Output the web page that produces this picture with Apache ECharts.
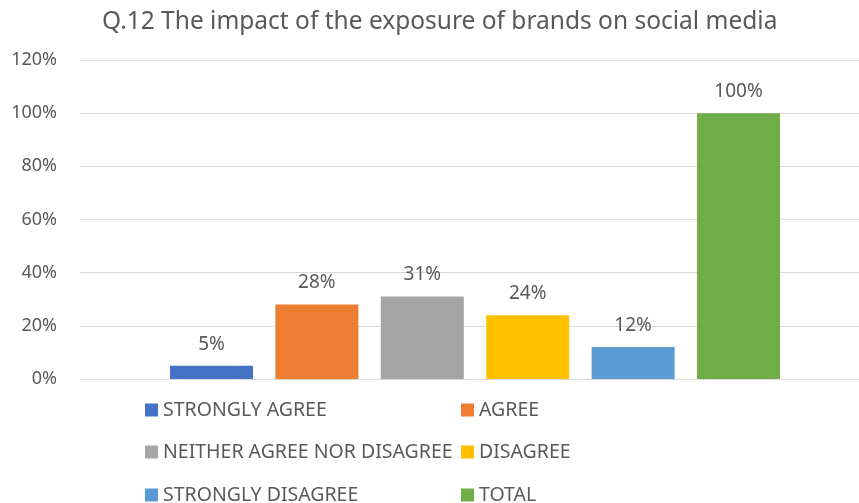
<!DOCTYPE html>
<html>
<head>
<meta charset="utf-8">
<script src="https://cdn.jsdelivr.net/npm/echarts@6/dist/echarts.min.js"></script>
<style>
  html, body { margin: 0; padding: 0; background: #fff; }
  #chart { width: 859px; height: 503px; }
</style>
</head>
<body>
<div id="chart"></div>
<script>
// Survey answers, in percent of respondents
const seriesNames = ['STRONGLY AGREE', 'AGREE', 'NEITHER AGREE NOR DISAGREE', 'DISAGREE', 'STRONGLY DISAGREE', 'TOTAL'];
const seriesValues = [5, 28, 31, 24, 12, 100];
const seriesColors = ['#4472C4', '#ED7D31', '#A5A5A5', '#FFC000', '#5B9BD5', '#70AD47'];
const yTicks = { min: 0, max: 120, step: 20 };

const FONT = 'Noto Sans';
const TEXT = '#595959';

const chart = echarts.init(document.getElementById('chart'), null, { renderer: 'canvas' });

const series = seriesNames.map((name, i) => ({
  name: name,
  type: 'bar',
  data: [seriesValues[i]],
  barWidth: 83,
  barGap: '27%',
  itemStyle: { color: seriesColors[i] },
  label: {
    show: true,
    position: 'top',
    distance: 12,
    formatter: '{c}%',
    color: TEXT,
    fontFamily: FONT,
    fontSize: 19
  }
}));

// Legend laid out as two columns of three rows, one legend block per entry
const legendCols = [140, 456];
const legendRows = [395, 437, 480];
const legends = seriesNames.map((name, i) => ({
  data: [name],
  left: legendCols[i % 2],
  top: legendRows[Math.floor(i / 2)],
  itemWidth: 13,
  itemHeight: 13,
  itemGap: 5,
  icon: 'rect',
  textStyle: { color: TEXT, fontFamily: FONT, fontSize: 19.5 }
}));

chart.setOption({
  animation: false,
  backgroundColor: '#ffffff',
  title: {
    text: 'Q.12 The impact of the exposure of brands on social media',
    left: 97,
    top: 5,
    textStyle: { color: TEXT, fontFamily: FONT, fontSize: 24.5, fontWeight: 'normal' }
  },
  // plot area runs a little past the right edge of the canvas
  grid: { left: 80, top: 60, width: 790, height: 319, outerBoundsMode: 'none' },
  legend: legends,
  xAxis: {
    type: 'category',
    data: [''],
    axisLine: { show: true, lineStyle: { color: '#d9d9d9', width: 1 } },
    axisTick: { show: false },
    axisLabel: { show: false }
  },
  yAxis: {
    type: 'value',
    min: yTicks.min,
    max: yTicks.max,
    interval: yTicks.step,
    axisLine: { show: false },
    axisTick: { show: false },
    axisLabel: {
      formatter: '{value}%',
      color: TEXT,
      fontFamily: FONT,
      fontSize: 18,
      margin: 23
    },
    splitLine: { lineStyle: { color: '#d9d9d9', width: 1 } }
  },
  series: series
});
</script>
</body>
</html>
